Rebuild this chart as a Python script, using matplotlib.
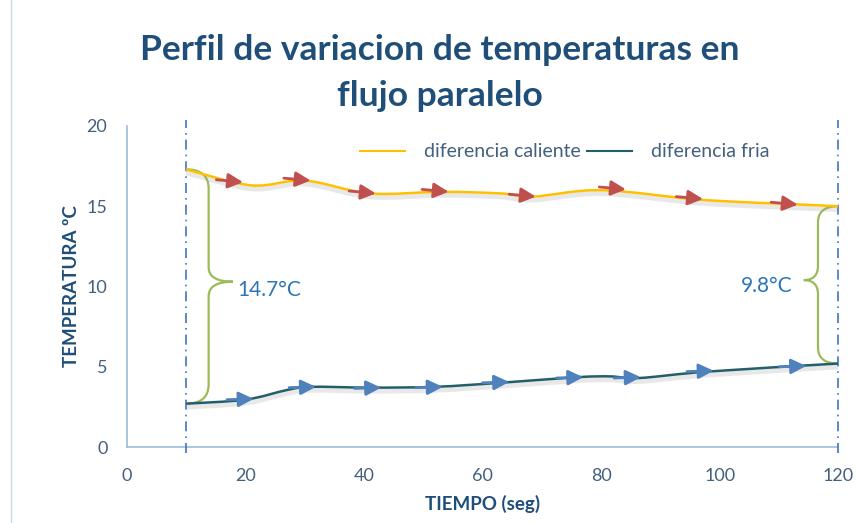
import numpy as np
import matplotlib
matplotlib.use('Agg')
import matplotlib.pyplot as plt
import matplotlib.patheffects as pe
from matplotlib.path import Path
from matplotlib.patches import PathPatch
from matplotlib.lines import Line2D

plt.rcParams['font.family'] = ['Lato', 'DejaVu Sans']

# datos
t_caliente = [10, 21, 30, 41, 53, 63, 68.5, 80, 97, 114, 120]
dif_caliente = [17.3, 16.3, 16.6, 15.8, 15.9, 15.8, 15.6, 16.0, 15.4, 15.1, 15.0]
t_fria = [10, 20, 27, 31, 41, 52, 63, 76, 81.5, 86.5, 98, 120]
dif_fria = [2.7, 2.95, 3.55, 3.75, 3.7, 3.75, 4.0, 4.35, 4.4, 4.3, 4.7, 5.2]

# flechas sobre las curvas (punta de la flecha)
flechas_cal_x = [19.6, 31, 42, 54.3, 69, 84.2, 97.2, 113.2]
flechas_cal_y = [16.5, 16.6, 15.8, 15.9, 15.6, 16.05, 15.45, 15.1]
flechas_fria_x = [21.4, 31.9, 42.9, 53.3, 64.5, 77, 86.7, 99, 114.6]
flechas_fria_y = [3.0, 3.75, 3.7, 3.75, 4.05, 4.35, 4.35, 4.75, 5.05]

ticks_x = [0, 20, 40, 60, 80, 100, 120]
ticks_y = [0, 5, 10, 15, 20]
delta_entrada = '14.7°C'
delta_salida = '9.8°C'

AZUL_TXT = '#44607F'
NAVY = '#1F4E79'
VERDE = '#9BBB59'


def curva_suave(x, y):
    # catmull-rom -> bezier, como la linea suavizada de excel
    x = np.asarray(x, float)
    y = np.asarray(y, float)
    verts = [(x[0], y[0])]
    codes = [Path.MOVETO]
    n = len(x)
    for i in range(n - 1):
        p0 = (x[max(i - 1, 0)], y[max(i - 1, 0)])
        p1 = (x[i], y[i])
        p2 = (x[i + 1], y[i + 1])
        p3 = (x[min(i + 2, n - 1)], y[min(i + 2, n - 1)])
        c1 = (p1[0] + (p2[0] - p0[0]) / 6, p1[1] + (p2[1] - p0[1]) / 6)
        c2 = (p2[0] - (p3[0] - p1[0]) / 6, p2[1] - (p3[1] - p1[1]) / 6)
        verts += [c1, c2, p2]
        codes += [Path.CURVE4] * 3
    return Path(verts, codes)


def llave(x0, y_top, y_bot, xb, x_tip, y_tip, r=1.2, rt=0.9):
    # llave curva: de (x0, y_top) a (x0, y_bot), con punta en (x_tip, y_tip)
    verts = [(x0, y_top), (xb, y_top), (xb, y_top - r),
             (xb, y_tip + rt), (xb, y_tip), (x_tip, y_tip),
             (xb, y_tip), (xb, y_tip - rt),
             (xb, y_bot + r), (xb, y_bot), (x0, y_bot)]
    codes = [Path.MOVETO, Path.CURVE3, Path.CURVE3,
             Path.LINETO, Path.CURVE3, Path.CURVE3,
             Path.CURVE3, Path.CURVE3,
             Path.LINETO, Path.CURVE3, Path.CURVE3]
    return Path(verts, codes)


fig = plt.figure(figsize=(8.57, 5.23), dpi=100)
ax = fig.add_axes([0.148, 0.1453, 0.83, 0.6138])
ax.set_xlim(0, 120)
ax.set_ylim(0, 20)

sombra = [pe.SimpleLineShadow(offset=(0, -2.5), shadow_color='#9a9a9a', alpha=0.22, rho=1,
                              linewidth=3.5), pe.Normal()]

ax.add_patch(PathPatch(curva_suave(t_caliente, dif_caliente), fc='none', ec='#FFC000',
                       lw=1.8, zorder=4, path_effects=sombra))
ax.add_patch(PathPatch(curva_suave(t_fria, dif_fria), fc='none', ec='#235F6B',
                       lw=1.8, zorder=4, path_effects=sombra))

for x, y in zip(flechas_cal_x, flechas_cal_y):
    ax.annotate('', xy=(x, y), xytext=(x - 4.5, y + 0.15),
                arrowprops=dict(arrowstyle='-|>,head_length=0.9,head_width=0.45',
                                color='#C0504D', lw=2, shrinkA=0, shrinkB=0), zorder=5)
for x, y in zip(flechas_fria_x, flechas_fria_y):
    ax.annotate('', xy=(x, y), xytext=(x - 4.5, y - 0.05),
                arrowprops=dict(arrowstyle='-|>,head_length=0.9,head_width=0.45',
                                color='#4F81BD', lw=2, shrinkA=0, shrinkB=0), zorder=5)

# lineas verticales de entrada y salida
for xv in (10, 120):
    ax.plot([xv, xv], [-0.4, 20.4], color='#4472C4', lw=1.2, ls=(0, (6, 3, 1, 3)),
            clip_on=False, zorder=3)

# llaves con las diferencias de temperatura
ax.add_patch(PathPatch(llave(10, dif_caliente[0], dif_fria[0], 13.8, 17.9, 10.3),
                       fc='none', ec=VERDE, lw=1.6, zorder=3))
ax.text(18.6, 9.8, delta_entrada, color='#2E75B6', fontsize=15, va='center', ha='left')

ax.add_patch(PathPatch(llave(120, dif_caliente[-1], dif_fria[-1], 116.6, 114.2, 10.4, r=1.0),
                       fc='none', ec=VERDE, lw=1.6, zorder=3))
ax.text(112.3, 10.0, delta_salida, color='#2E75B6', fontsize=15, va='center', ha='right')

# ejes
for s in ('top', 'right'):
    ax.spines[s].set_visible(False)
for s in ('left', 'bottom'):
    ax.spines[s].set_color('#9DB9E0')
    ax.spines[s].set_linewidth(1.2)
ax.set_xticks(ticks_x)
ax.set_yticks(ticks_y)
ax.tick_params(length=0, labelsize=13, colors=AZUL_TXT, pad=15)
ax.tick_params(axis='y', pad=14)
ax.set_xlabel('TIEMPO (seg)', fontsize=13.5, fontweight='bold', color=NAVY, labelpad=8)
ax.set_ylabel('TEMPERATURA ºC', fontsize=13.5, fontweight='bold', color=NAVY, labelpad=5)

handles = [Line2D([], [], color='#FFC000', lw=1.5), Line2D([], [], color='#235F6B', lw=1.5)]
ax.legend(handles, ['diferencia caliente', 'diferencia fria'], loc='center',
          bbox_to_anchor=(0.616, 0.919), ncol=2, frameon=False, fontsize=14,
          labelcolor=AZUL_TXT, handlelength=2.3, columnspacing=0.3, handletextpad=1.0)

fig.text(0.513, 0.861, 'Perfil de variacion de temperaturas en\nflujo paralelo', ha='center',
         va='center', fontsize=25.5, fontweight='bold', color=NAVY, linespacing=1.55)

fig.add_artist(Line2D([0.013, 0.013], [0, 1], transform=fig.transFigure, color='#C9D8EC', lw=1))

fig.savefig('out.png', dpi=100)
